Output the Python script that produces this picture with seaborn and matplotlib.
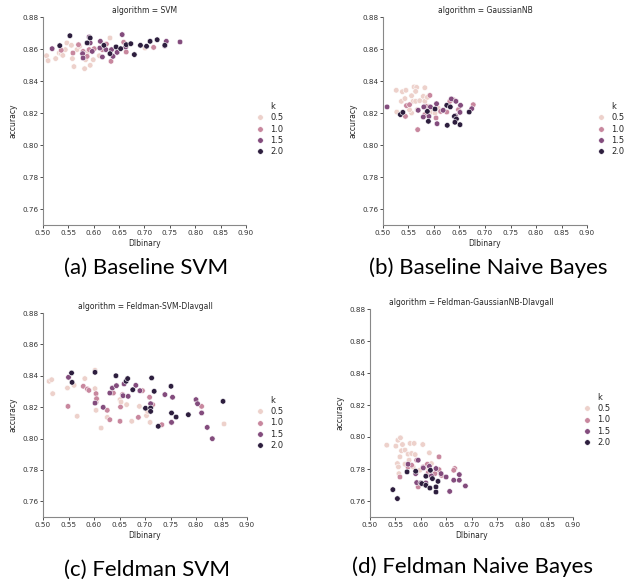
import matplotlib
matplotlib.use("Agg")
import matplotlib.pyplot as plt
from matplotlib.lines import Line2D
import pandas as pd
import seaborn as sns

# ---- data: DIbinary / accuracy per k ----
k_levels = [0.5, 1.0, 1.5, 2.0]

svm_dib = {
    0.5: [0.507, 0.510, 0.525, 0.532, 0.536, 0.539, 0.544, 0.547, 0.556, 0.558,
          0.561, 0.567, 0.572, 0.582, 0.584, 0.589, 0.593, 0.599, 0.611, 0.632, 0.701],
    1.0: [0.536, 0.559, 0.570, 0.579, 0.587, 0.591, 0.601, 0.617, 0.625, 0.634,
          0.659, 0.664, 0.718],
    1.5: [0.518, 0.578, 0.579, 0.591, 0.593, 0.597, 0.612, 0.613, 0.617, 0.624,
          0.635, 0.638, 0.646, 0.656, 0.663, 0.740, 0.743, 0.770],
    2.0: [0.533, 0.553, 0.587, 0.593, 0.620, 0.632, 0.644, 0.653, 0.664, 0.673,
          0.680, 0.692, 0.704, 0.711, 0.725, 0.740],
}
svm_acc = {
    0.5: [0.8558, 0.8527, 0.8540, 0.8575, 0.8570, 0.8560, 0.8596, 0.8638, 0.8623, 0.8540,
          0.8490, 0.8596, 0.8617, 0.8477, 0.8533, 0.8585, 0.8498, 0.8533, 0.8558, 0.8669, 0.8606],
    1.0: [0.8592, 0.8575, 0.8627, 0.8585, 0.8554, 0.8596, 0.8602, 0.8596, 0.8631, 0.8523,
          0.8642, 0.8581, 0.8610],
    1.5: [0.8602, 0.8571, 0.8544, 0.8675, 0.8638, 0.8585, 0.8606, 0.8648, 0.8550, 0.8596,
          0.8596, 0.8554, 0.8579, 0.8690, 0.8613, 0.8620, 0.8648, 0.8644],
    2.0: [0.8621, 0.8683, 0.8638, 0.8669, 0.8623, 0.8571, 0.8613, 0.8602, 0.8627, 0.8633,
          0.8565, 0.8623, 0.8617, 0.8648, 0.8658, 0.8623],
}

nb_dib = {
    0.5: [0.526, 0.527, 0.536, 0.538, 0.545, 0.543, 0.556, 0.559, 0.561, 0.566,
          0.564, 0.564, 0.572, 0.556, 0.567, 0.582, 0.579, 0.582, 0.587, 0.589,
          0.597, 0.608, 0.602, 0.552],
    1.0: [0.544, 0.546, 0.552, 0.568, 0.582, 0.592, 0.604, 0.613, 0.625, 0.631,
          0.638, 0.648, 0.677, 0.584],
    1.5: [0.508, 0.569, 0.580, 0.590, 0.593, 0.605, 0.606, 0.618, 0.634, 0.643,
          0.642, 0.651, 0.652, 0.674, 0.579],
    2.0: [0.534, 0.539, 0.587, 0.589, 0.602, 0.625, 0.632, 0.626, 0.640, 0.644,
          0.651, 0.669, 0.641],
}
nb_acc = {
    0.5: [0.8342, 0.8206, 0.8273, 0.8333, 0.8342, 0.8290, 0.8308, 0.8273, 0.8363, 0.8360,
          0.8335, 0.8273, 0.8277, 0.8200, 0.8221, 0.8358, 0.8304, 0.8273, 0.8298, 0.8242,
          0.8206, 0.8231, 0.8200, 0.8220],
    1.0: [0.8179, 0.8246, 0.8252, 0.8096, 0.8190, 0.8310, 0.8169, 0.8210, 0.8206, 0.8273,
          0.8283, 0.8221, 0.8252, 0.8242],
    1.5: [0.8238, 0.8217, 0.8238, 0.8179, 0.8238, 0.8258, 0.8133, 0.8217, 0.8288, 0.8273,
          0.8183, 0.8204, 0.8248, 0.8227, 0.8175],
    2.0: [0.8190, 0.8204, 0.8210, 0.8148, 0.8225, 0.8248, 0.8238, 0.8123, 0.8179, 0.8163,
          0.8127, 0.8206, 0.8142],
}

fsvm_dib = {
    0.5: [0.512, 0.517, 0.519, 0.548, 0.561, 0.567, 0.582, 0.602, 0.602, 0.604,
          0.606, 0.614, 0.626, 0.637, 0.651, 0.653, 0.664, 0.674, 0.689, 0.703,
          0.705, 0.710, 0.715, 0.855],
    1.0: [0.549, 0.579, 0.587, 0.590, 0.604, 0.604, 0.605, 0.626, 0.631, 0.638,
          0.651, 0.652, 0.656, 0.687, 0.695, 0.709, 0.715, 0.733, 0.752, 0.811],
    1.5: [0.550, 0.602, 0.618, 0.631, 0.636, 0.644, 0.657, 0.659, 0.667, 0.682,
          0.690, 0.711, 0.739, 0.754, 0.800, 0.803, 0.811, 0.822, 0.832, 0.752],
    2.0: [0.556, 0.557, 0.602, 0.643, 0.663, 0.666, 0.676, 0.701, 0.711, 0.711,
          0.713, 0.718, 0.726, 0.751, 0.752, 0.761, 0.785, 0.853],
}
fsvm_acc = {
    0.5: [0.8365, 0.8375, 0.8286, 0.8322, 0.8339, 0.8142, 0.8382, 0.8435, 0.8318, 0.8180,
          0.8248, 0.8067, 0.8135, 0.8290, 0.8248, 0.8233, 0.8216, 0.8110, 0.8205, 0.8146,
          0.8173, 0.8103, 0.8212, 0.8093],
    1.0: [0.8205, 0.8333, 0.8316, 0.8307, 0.8286, 0.8231, 0.8254, 0.8180, 0.8120, 0.8290,
          0.8110, 0.8201, 0.8280, 0.8135, 0.8305, 0.8263, 0.8216, 0.8088, 0.8103, 0.8205],
    1.5: [0.8390, 0.8226, 0.8199, 0.8290, 0.8322, 0.8337, 0.8273, 0.8348, 0.8269, 0.8339,
          0.8305, 0.8222, 0.8280, 0.8263, 0.8248, 0.8222, 0.8163, 0.8071, 0.7999, 0.8103],
    2.0: [0.8418, 0.8358, 0.8422, 0.8400, 0.8365, 0.8382, 0.8311, 0.8193, 0.8195, 0.8173,
          0.8386, 0.8301, 0.8078, 0.8333, 0.8163, 0.8137, 0.8152, 0.8237],
}

fnb_dib = {
    0.5: [0.533, 0.551, 0.555, 0.560, 0.564, 0.562, 0.569, 0.554, 0.556, 0.559,
          0.557, 0.569, 0.579, 0.587, 0.575, 0.582, 0.589, 0.577, 0.604, 0.617,
          0.598, 0.585, 0.634, 0.621, 0.608],
    1.0: [0.559, 0.575, 0.582, 0.592, 0.595, 0.605, 0.613, 0.615, 0.619, 0.628,
          0.636, 0.636, 0.641, 0.667, 0.665],
    1.5: [0.575, 0.590, 0.595, 0.592, 0.605, 0.610, 0.617, 0.621, 0.630, 0.640,
          0.650, 0.657, 0.665, 0.676, 0.676, 0.688, 0.600],
    2.0: [0.545, 0.554, 0.573, 0.590, 0.602, 0.610, 0.610, 0.618, 0.619, 0.623,
          0.630, 0.630, 0.634],
}
fnb_acc = {
    0.5: [0.7949, 0.7943, 0.7980, 0.7995, 0.7953, 0.7914, 0.7918, 0.7834, 0.7813, 0.7876,
          0.7771, 0.7830, 0.7960, 0.7960, 0.7893, 0.7897, 0.7890, 0.7855, 0.7953, 0.7901,
          0.7792, 0.7813, 0.7792, 0.7834, 0.7807],
    1.0: [0.7750, 0.7813, 0.7824, 0.7855, 0.7688, 0.7813, 0.7830, 0.7778, 0.7757, 0.7771,
          0.7876, 0.7796, 0.7760, 0.7803, 0.7792],
    1.5: [0.7830, 0.7771, 0.7855, 0.7715, 0.7807, 0.7713, 0.7817, 0.7757, 0.7803, 0.7771,
          0.7750, 0.7660, 0.7730, 0.7765, 0.7730, 0.7694, 0.7713],
    2.0: [0.7671, 0.7615, 0.7782, 0.7786, 0.7709, 0.7755, 0.7698, 0.7681, 0.7792, 0.7740,
          0.7688, 0.7656, 0.7723],
}

algorithms = ["SVM", "GaussianNB", "Feldman-SVM-DIavgall", "Feldman-GaussianNB-DIavgall"]
captions = ["(a) Baseline SVM", "(b) Baseline Naive Bayes",
            "(c) Feldman SVM", "(d) Feldman Naive Bayes"]
panel_data = [(svm_dib, svm_acc), (nb_dib, nb_acc),
              (fsvm_dib, fsvm_acc), (fnb_dib, fnb_acc)]

x_ticks = [0.50, 0.55, 0.60, 0.65, 0.70, 0.75, 0.80, 0.85, 0.90]
y_ticks = [0.76, 0.78, 0.80, 0.82, 0.84, 0.86, 0.88]


def make_frame(dib, acc, name):
    rows = []
    for k in k_levels:
        for x, y in zip(dib[k], acc[k]):
            rows.append({"DIbinary": x, "accuracy": y, "k": k, "algorithm": name})
    return pd.DataFrame(rows)


sns.set_style("ticks")
plt.rcParams["font.family"] = ["DejaVu Sans"]

W, H = 629, 586
fig = plt.figure(figsize=(W / 100, H / 100), dpi=100)

# axes boxes in pixels (left, top, right, bottom)
boxes = [(43, 17, 246, 225), (383, 17, 587, 225),
         (43, 313, 247, 517), (370, 309, 573, 517)]
legend_pos = [(247, 129), (588, 129), (247, 423), (574, 420)]
caption_pos = [(146, 268), (488, 268), (147, 570), (473, 567)]

cmap = sns.cubehelix_palette(as_cmap=True)

for i, (name, (dib, acc)) in enumerate(zip(algorithms, panel_data)):
    l, t, r, b = boxes[i]
    ax = fig.add_axes([l / W, 1 - b / H, (r - l) / W, (b - t) / H])
    df = make_frame(dib, acc, name)
    sns.scatterplot(data=df, x="DIbinary", y="accuracy", hue="k",
                    palette=cmap, hue_norm=(0.5, 2.0), legend="full",
                    s=16, edgecolor="white", linewidth=0.4, ax=ax)
    ax.set_xlim(0.50, 0.90)
    ax.set_ylim(0.75, 0.88)
    ax.set_xticks(x_ticks)
    ax.set_xticklabels([f"{v:.2f}" for v in x_ticks], fontsize=5.2)
    ax.set_yticks(y_ticks)
    ax.set_yticklabels([f"{v:.2f}" for v in y_ticks], fontsize=5.2)
    ax.tick_params(length=2, width=0.6, pad=1.5, colors="#333333")
    ax.set_xlabel("DIbinary", fontsize=5.5, labelpad=2)
    ax.set_ylabel("accuracy", fontsize=5.5, labelpad=3)
    ax.set_title(f"algorithm = {name}", fontsize=5.5, pad=3)
    sns.despine(ax=ax)
    for side in ["left", "bottom"]:
        ax.spines[side].set_color("#888888")
        ax.spines[side].set_linewidth(0.8)

    # old-style legend: "k" is an entry with an empty handle
    handles, labels = ax.get_legend_handles_labels()
    ax.get_legend().remove()
    handles = [Line2D([], [], linestyle="", marker="")] + handles
    labels = ["k"] + labels
    lx, ly = legend_pos[i]
    fig.legend(handles, labels, loc="center left",
               bbox_to_anchor=(lx / W, 1 - ly / H), frameon=False,
               fontsize=6, handletextpad=0.3, labelspacing=0.28, borderpad=0)

    cx, cy = caption_pos[i]
    fig.text(cx / W, 1 - cy / H, captions[i], ha="center", va="center",
             fontsize=16, color="black", family=["Lato", "DejaVu Sans"])

fig.savefig("out.png", dpi=100)
